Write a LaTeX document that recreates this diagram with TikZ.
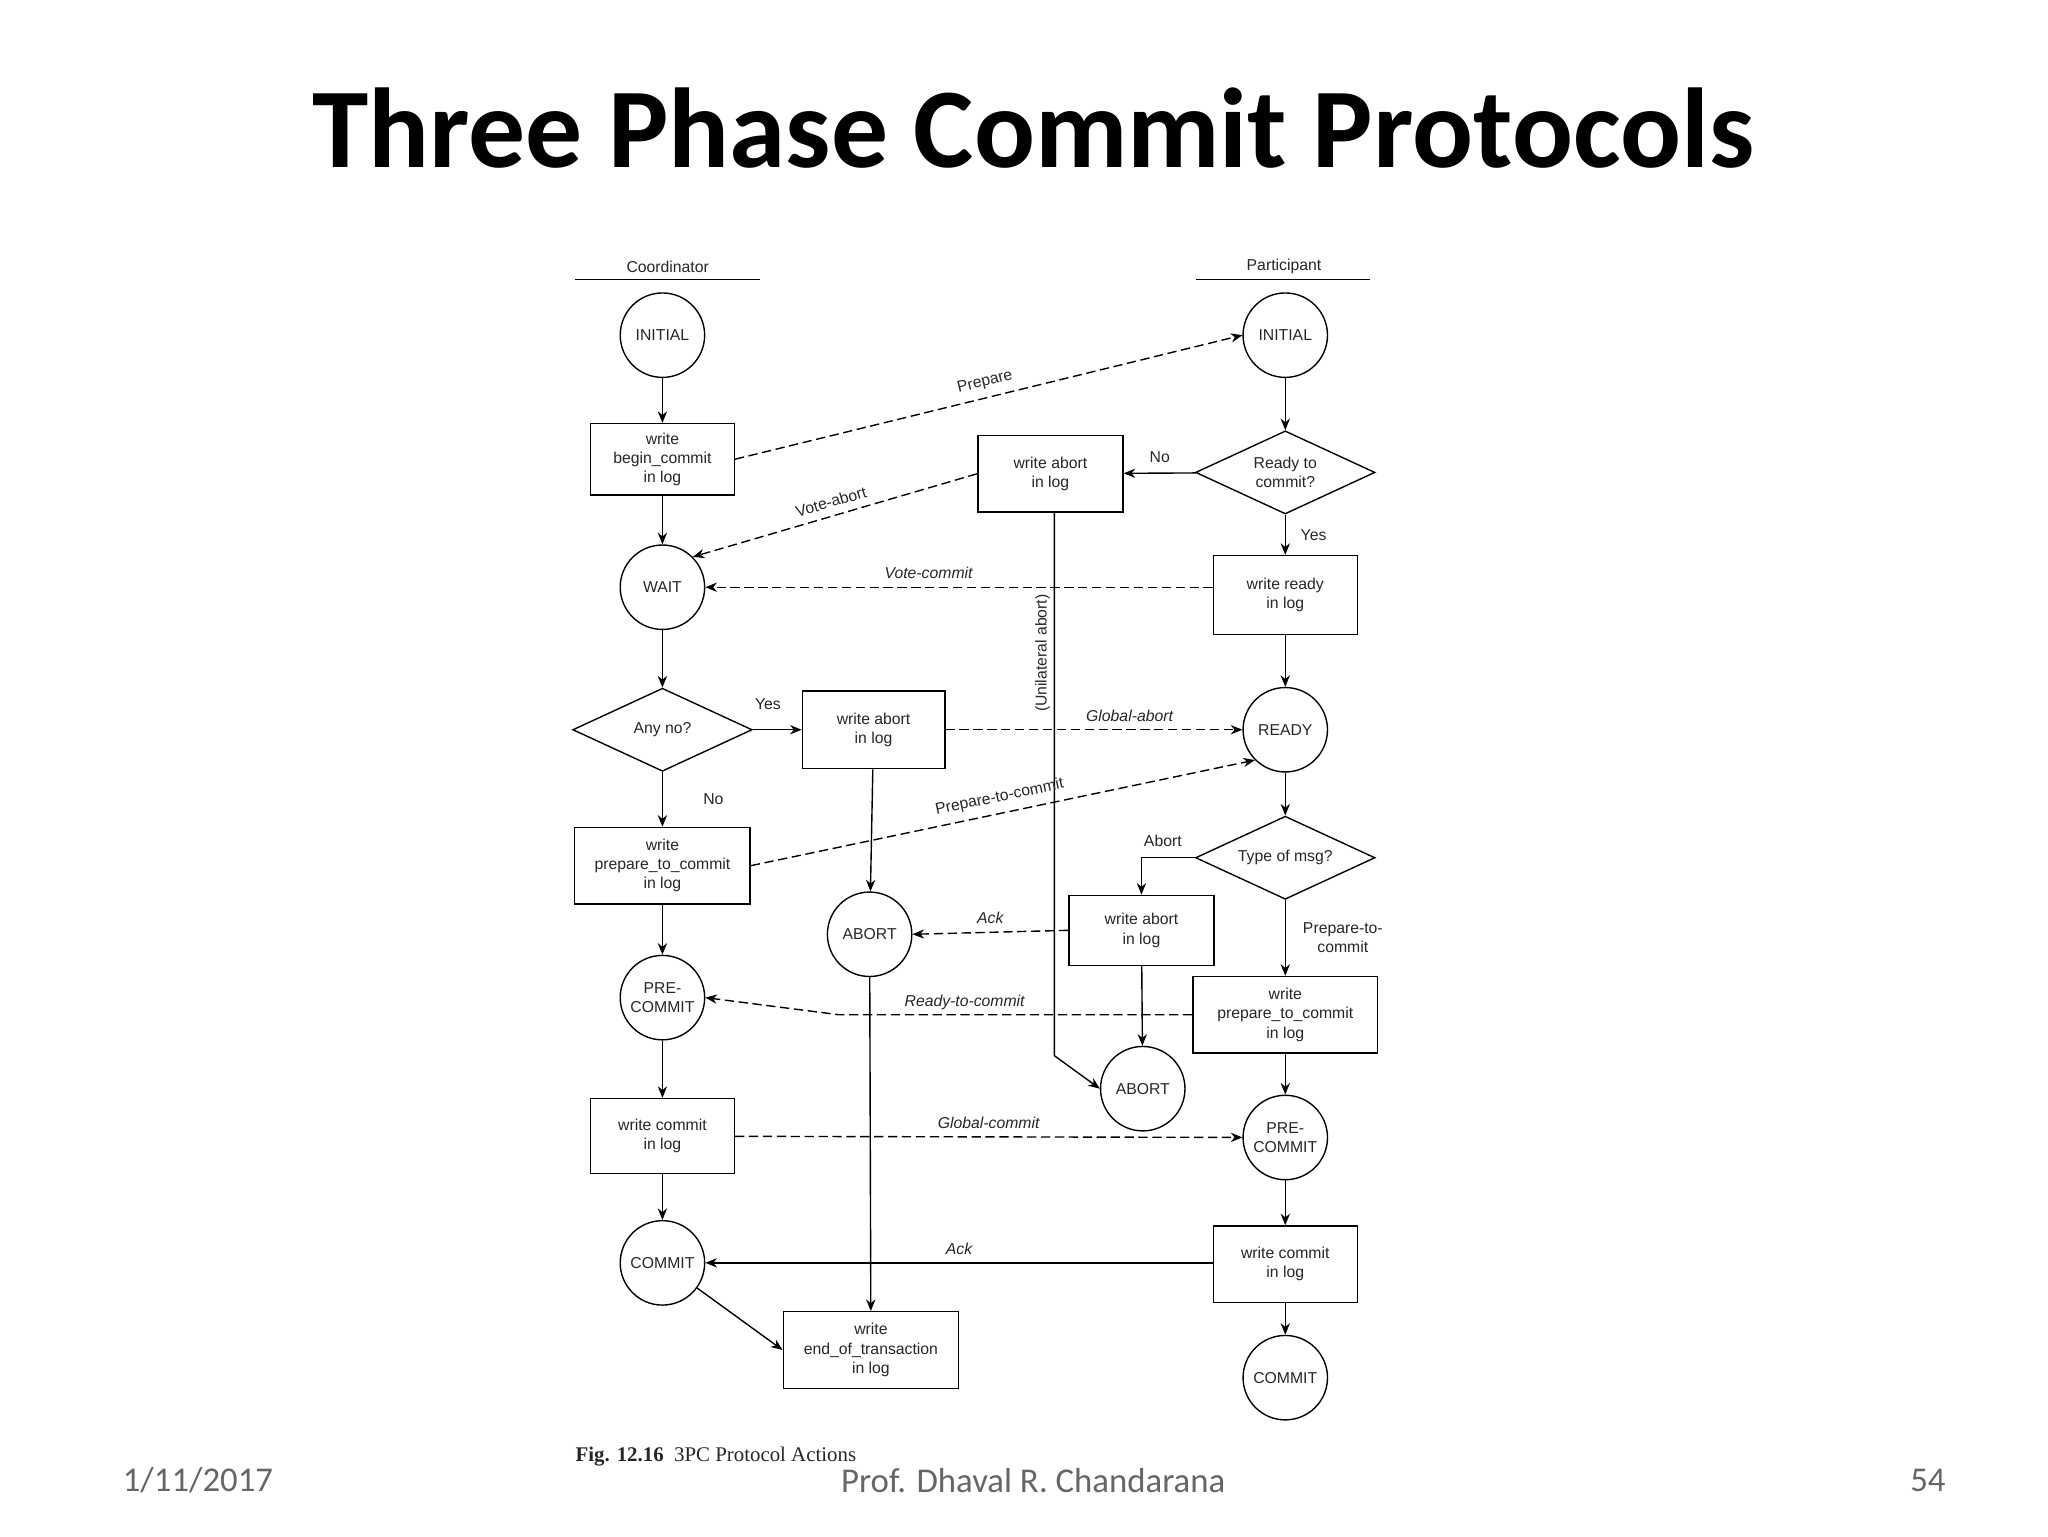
\documentclass[tikz,border=0pt]{standalone}
\usepackage{fontspec}
\setmainfont{Liberation Sans}
\newfontfamily\carl{Carlito}
\newfontfamily\tms{Liberation Serif}
\usetikzlibrary{arrows.meta,shapes.geometric}
\begin{document}
\begin{tikzpicture}[x=0.02cm,y=-0.02cm,
  every node/.style={font=\fontsize{6.8}{8.3}\selectfont, text=black!85},
  st/.style={circle,draw,line width=0.6pt,minimum size=1.28cm,inner sep=0pt,align=center},
  bx/.style={draw,line width=0.6pt,align=center,inner sep=0pt},
  dm/.style={diamond,draw,line width=0.6pt,aspect=2.15,minimum width=2.72cm,minimum height=1.26cm,inner sep=0pt,align=center},
  ar/.style={-{Stealth[length=5pt,width=4pt]},line width=0.6pt},
  da/.style={ar,dashed,dash pattern=on 4pt off 2pt},
  lb/.style={font=\fontsize{6.8}{8.3}\selectfont\itshape}]
\useasboundingbox (0,0) rectangle (1552,1164);
\node[font=\carl\bfseries\fontsize{49}{52}\selectfont,text=black] (title) at (783,97) {Three Phase Commit Protocols};
\node[font=\carl\fontsize{15}{17}\selectfont,text=black!60] (d) at (150,1122) {1/11/2017};
\node[font=\carl\fontsize{15}{17}\selectfont,text=black!60] (p) at (783,1122) {Prof. Dhaval R. Chandarana};
\node[font=\carl\fontsize{15}{17}\selectfont,text=black!60] (n) at (1461,1122) {54};
\node[font=\tms\fontsize{9}{10}\selectfont,anchor=west] (cap) at (430,1104) {\textbf{Fig. 12.16}\ \ 3PC Protocol Actions};
% headers
\node (hc) at (506,202) {Coordinator};
\node (hp) at (973,202) {Participant};
\draw[line width=0.6pt] (436,212) -- (576,212);
\draw[line width=0.6pt] (906,212) -- (1038,212);
% coordinator
\node[st] (ci) at (502,254) {INITIAL};
\node[bx,minimum width=2.18cm,minimum height=1.08cm] (cb) at (502,348) {write\\begin\_commit\\in log};
\node[st] (cw) at (502,445) {WAIT};
\node[dm] (cany) at (502,553) {Any no?};
\node[bx,minimum width=2.66cm,minimum height=1.16cm] (cpp) at (502,656) {write\\prepare\_to\_commit\\in log};
\node[st] (cpc) at (502,756) {PRE-\\COMMIT};
\node[bx,minimum width=2.18cm,minimum height=1.14cm] (ccm) at (502,861) {write commit\\in log};
\node[st] (cc) at (502,957) {COMMIT};
% middle
\node[bx,minimum width=2.16cm,minimum height=1.18cm] (cab) at (662,553) {write abort\\in log};
\node[st] (ca) at (659,708) {ABORT};
\node[bx,minimum width=2.66cm,minimum height=1.16cm] (ceot) at (660,1023) {write\\end\_of\_transaction\\in log};
\node[bx,minimum width=2.2cm,minimum height=1.16cm] (pab1) at (796,359) {write abort\\in log};
\node[bx,minimum width=2.2cm,minimum height=1.06cm] (pab2) at (865,705) {write abort\\in log};
\node[st] (pa) at (866,825) {ABORT};
% participant
\node[st] (pi) at (974,254) {INITIAL};
\node[dm] (prd) at (974,358) {Ready to\\commit?};
\node[bx,minimum width=2.18cm,minimum height=1.2cm] (pwr) at (974,451) {write ready\\in log};
\node[st] (pr) at (974,553) {READY};
\node[dm] (pt) at (974,650) {Type of msg?};
\node[bx,minimum width=2.8cm,minimum height=1.16cm] (ppp) at (974,769) {write\\prepare\_to\_commit\\in log};
\node[st] (ppc) at (974,862) {PRE-\\COMMIT};
\node[bx,minimum width=2.18cm,minimum height=1.16cm] (pcm) at (974,958) {write commit\\in log};
\node[st] (pc) at (974,1044) {COMMIT};
% vertical flows
\draw[ar] (ci) -- (cb); \draw[ar] (cb) -- (cw); \draw[ar] (cw) -- (cany);
\draw[ar] (cany) -- node[right,xshift=14pt] {No} (cpp);
\draw[ar] (cpp) -- (cpc); \draw[ar] (cpc) -- (ccm); \draw[ar] (ccm) -- (cc);
\draw[ar] (pi) -- (prd);
\draw[ar] (prd) -- node[right,xshift=3pt] {Yes} (pwr);
\draw[ar] (pwr) -- (pr); \draw[ar] (pr) -- (pt);
\draw[ar] (pt) -- node[right,xshift=4pt,align=center] {Prepare-to-\\commit} (ppp);
\draw[ar] (ppp) -- (ppc); \draw[ar] (ppc) -- (pcm); \draw[ar] (pcm) -- (pc);
\draw[ar] (cany) -- node[above,xshift=-4pt,yshift=5pt] {Yes} (cab);
\draw[ar] (prd) -- node[above,yshift=1pt] {No} (pab1);
\draw[ar] (pt.west) -| node[pos=0.3,above,yshift=1pt] {Abort} (pab2.north);
\draw[ar] (pab2) -- (pa);
\draw[ar] (cab) -- (ca);
\draw[ar] (ca) -- (ceot);
\draw[ar] (cc) -- (ceot.west);
\draw[ar] (pab1.south -| 799,0) -- (799,800) -- (pa.west);
\node[rotate=90] (ul) at (790,495) {(Unilateral abort)};
% messages
\draw[da] (cb.east) -- node[sloped,above] {Prepare} (pi.west);
\draw[da] (pab1.west) -- node[sloped,above] {Vote-abort} (cw.north east);
\draw[da] (pwr.west |- cw) -- node[above,lb,pos=0.56] {Vote-commit} (cw.east);
\draw[da] (cab) -- node[above,lb,pos=0.62] {Global-abort} (pr);
\draw[da] (cpp.east) -- node[sloped,above] {Prepare-to-commit} (pr.south west);
\draw[da] (pab2.west) -- node[above,lb] {Ack} (ca.east);
\draw[da] (ppp.west) -- (636,769) -- (cpc.east);
\node[lb] (rtc) at (731,760) {Ready-to-commit};
\draw[da] (ccm) -- node[above,lb] {Global-commit} (ppc);
\draw[ar] (pcm.west |- cc) -- node[above,lb] {Ack} (cc.east);
\end{tikzpicture}
\end{document}
